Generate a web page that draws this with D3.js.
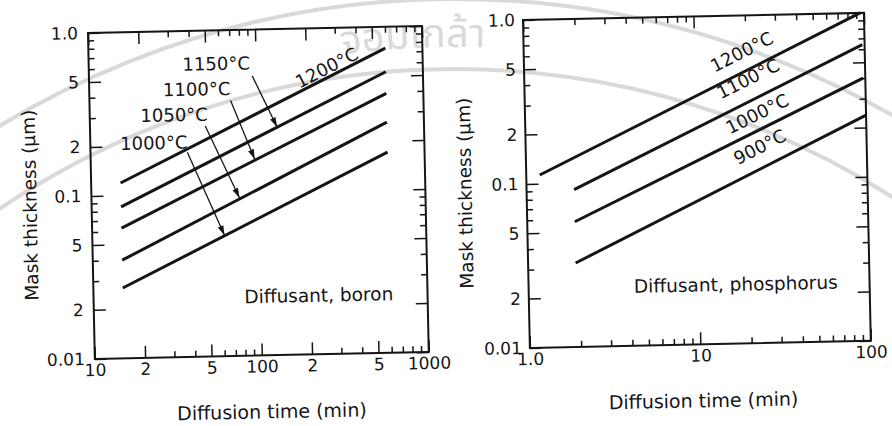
<!DOCTYPE html>
<html>
<head>
<meta charset="utf-8">
<script src="https://cdn.jsdelivr.net/npm/d3@7"></script>
<style>
  body { margin: 0; background: #fff; }
  text { font-family: "DejaVu Sans", sans-serif; fill: #151515; }
  .tick line { stroke: #151515; stroke-width: 1.5; }
  .tick text { font-size: 17px; }
</style>
</head>
<body>
<svg id="chart" width="892" height="426"></svg>
<script>
'use strict';

//#region DATASET
// boron (left panel), straight lines on log-log paper
const boronLabels = ['1200°C', '1150°C', '1100°C', '1050°C', '1000°C'];
const boronTime = [15, 600]; // min
const boronStart = [0.119, 0.085, 0.063, 0.040, 0.027]; // µm at 15 min
const boronEnd = [0.74, 0.53, 0.39, 0.26, 0.17]; // µm at 600 min
const boronLabelAt = [[266, 0.57], [58, 0.57], [44, 0.40], [32, 0.28], [24, 0.19]];
const boronArrowFrom = [null, [95, 0.52], [70, 0.37], [49, 0.26], [38, 0.18]];
const boronArrowTo = [null, [132, 0.25], [96, 0.16], [77, 0.093], [62, 0.055]];
const boronNote = [80, 0.021];

// phosphorus (right panel)
const phosLabels = ['1200°C', '1100°C', '1000°C', '900°C'];
const phosTimeStart = [1.2, 1.9, 1.9, 1.9];
const phosTimeEnd = [95, 97, 97, 100];
const phosStart = [0.113, 0.091, 0.058, 0.0325];
const phosEnd = [1.0, 0.64, 0.40, 0.238];
const phosLabelAt = [[19, 0.60], [20.5, 0.41], [23, 0.25], [23.6, 0.157]];
const phosNote = [4.15, 0.021];

// axes
const thickTicks = [1, 0.5, 0.2, 0.1, 0.05, 0.02, 0.01];
const thickTickLabels = ['1.0', '5', '2', '0.1', '5', '2', '0.01'];
const boronTimeTicks = [10, 20, 50, 100, 200, 500, 1000];
const boronTimeTickLabels = ['10', '2', '5', '100', '2', '5', '1000'];
const phosTimeTicks = [1, 10, 100];
const phosTimeTickLabels = ['1.0', '10', '100'];
//#endregion DATASET

const svg = d3.select('#chart');
const ink = '#151515';
const tilt = -1.2; // the scanned page is slightly rotated

//#region WATERMARK
const wm = svg.append('g').attr('opacity', 0.5);
const wmC = { x: 455, y: 879 };
[810, 880].forEach(r => {
  wm.append('circle')
    .attr('cx', wmC.x).attr('cy', wmC.y).attr('r', r)
    .attr('fill', 'none').attr('stroke', '#b4b4b4').attr('stroke-width', 4);
});
wm.append('path')
  .attr('id', 'wm-path')
  .attr('fill', 'none')
  .attr('d', `M${wmC.x - 832},${wmC.y} A832,832 0 0 1 ${wmC.x + 832},${wmC.y}`);
wm.append('text')
  .style('font-family', '"Noto Sans Thai", "Noto Sans", sans-serif')
  .style('font-size', '40px')
  .style('fill', '#b4b4b4')
  .append('textPath')
  .attr('href', '#wm-path')
  .attr('startOffset', '48.4%')
  .attr('text-anchor', 'middle')
  .text('จอมเกล้า');
//#endregion WATERMARK

//#region MARKERS
svg.append('defs').append('marker')
  .attr('id', 'arrow')
  .attr('viewBox', '0 0 10 10')
  .attr('refX', 10).attr('refY', 5)
  .attr('markerUnits', 'userSpaceOnUse')
  .attr('markerWidth', 10).attr('markerHeight', 10)
  .attr('orient', 'auto')
  .append('path')
  .attr('d', 'M0,2L10,5L0,8Z')
  .attr('fill', ink);
//#endregion MARKERS

function drawPanel (p) {
  const plot = svg.append('g')
    .attr('transform', `translate(${p.left},${p.top}) rotate(${tilt})`);

  const xScale = d3.scaleLog().domain(p.xDomain).range([0, p.width]);
  const yScale = d3.scaleLog().domain([0.01, 1]).range([p.height, 0]);

  // ticks: all point inward, labeled ones longer
  const xMinor = xScale.ticks().filter(v => !p.xTicks.includes(v));
  const yMinor = yScale.ticks().filter(v => !thickTicks.some(t => Math.abs(t - v) < 1e-9));
  const tickAxis = (axis, values, size, labels, pad, shift) => {
    const g = plot.append('g')
      .attr('transform', shift)
      .call(axis.tickValues(values).tickSize(-size).tickSizeOuter(0).tickPadding(pad)
        .tickFormat(labels ? (d, i) => labels[i] : ''));
    g.select('.domain').remove();
    g.attr('font-family', null).attr('font-size', null);
    return g;
  };
  tickAxis(d3.axisBottom(xScale), p.xTicks, 12, p.xLabels, p.xPad, `translate(0,${p.height})`);
  tickAxis(d3.axisBottom(xScale), xMinor, 6, null, 0, `translate(0,${p.height})`);
  tickAxis(d3.axisTop(xScale), p.xTicks, 12, null, 0, null);
  tickAxis(d3.axisTop(xScale), xMinor, 6, null, 0, null);
  tickAxis(d3.axisLeft(yScale), thickTicks, 12, thickTickLabels, p.yPad, null);
  tickAxis(d3.axisLeft(yScale), yMinor, 6, null, 0, null);
  tickAxis(d3.axisRight(yScale), thickTicks, 12, null, 0, `translate(${p.width},0)`);
  tickAxis(d3.axisRight(yScale), yMinor, 6, null, 0, `translate(${p.width},0)`);

  plot.append('rect')
    .attr('width', p.width).attr('height', p.height)
    .attr('fill', 'none').attr('stroke', ink).attr('stroke-width', 2);

  // data lines
  const line = d3.line().x(d => xScale(d[0])).y(d => yScale(d[1]));
  plot.append('g').selectAll('path').data(p.series).enter()
    .append('path')
    .attr('d', line)
    .attr('fill', 'none')
    .attr('stroke', ink)
    .attr('stroke-width', 3);

  // note
  plot.append('text')
    .attr('x', xScale(p.note[0])).attr('y', yScale(p.note[1]))
    .style('font-size', '18.5px')
    .text(p.noteText);

  // axis titles
  plot.append('text')
    .attr('x', p.width / 2 + p.xTitleShift).attr('y', p.height + 63)
    .attr('text-anchor', 'middle')
    .style('font-size', '19px')
    .text('Diffusion time (min)');
  plot.append('text')
    .attr('transform', `translate(-55,${p.height / 2 + 8}) rotate(-90)`)
    .attr('text-anchor', 'middle')
    .style('font-size', '18.5px')
    .text('Mask thickness (μm)');

  return { plot, xScale, yScale };
}

//#region LEFT PANEL
const boronSeries = boronLabels.map((_, i) => [[boronTime[0], boronStart[i]], [boronTime[1], boronEnd[i]]]);
const left = drawPanel({
  left: 88, top: 33, width: 334, height: 326,
  xDomain: [10, 1000], xTicks: boronTimeTicks, xLabels: boronTimeTickLabels,
  xPad: 5, yPad: 10, xTitleShift: 9,
  series: boronSeries, note: boronNote, noteText: 'Diffusant, boron'
});

const slopeAngle = (s, xs, ys) => Math.atan2(ys(s[1][1]) - ys(s[0][1]), xs(s[1][0]) - xs(s[0][0])) * 180 / Math.PI;

boronLabels.forEach((label, i) => {
  const x = left.xScale(boronLabelAt[i][0]);
  const y = left.yScale(boronLabelAt[i][1]);
  const t = left.plot.append('text')
    .attr('text-anchor', 'middle')
    .style('font-size', '18px')
    .text(label);
  if (i === 0) {
    t.attr('transform', `translate(${x},${y}) rotate(${slopeAngle(boronSeries[0], left.xScale, left.yScale)})`)
      .attr('dy', '0.35em');
  } else {
    t.attr('x', x).attr('y', y);
    left.plot.append('line')
      .attr('x1', left.xScale(boronArrowFrom[i][0])).attr('y1', left.yScale(boronArrowFrom[i][1]))
      .attr('x2', left.xScale(boronArrowTo[i][0])).attr('y2', left.yScale(boronArrowTo[i][1]))
      .attr('stroke', ink).attr('stroke-width', 1.3)
      .attr('marker-end', 'url(#arrow)');
  }
});
//#endregion LEFT PANEL

//#region RIGHT PANEL
const phosSeries = phosLabels.map((_, i) => [[phosTimeStart[i], phosStart[i]], [phosTimeEnd[i], phosEnd[i]]]);
const right = drawPanel({
  left: 523, top: 20, width: 341, height: 328,
  xDomain: [1, 100], xTicks: phosTimeTicks, xLabels: phosTimeTickLabels,
  xPad: 5, yPad: 8, xTitleShift: 2,
  series: phosSeries, note: phosNote, noteText: 'Diffusant, phosphorus'
});

phosLabels.forEach((label, i) => {
  const x = right.xScale(phosLabelAt[i][0]);
  const y = right.yScale(phosLabelAt[i][1]);
  right.plot.append('text')
    .attr('transform', `translate(${x},${y}) rotate(${slopeAngle(phosSeries[i], right.xScale, right.yScale)})`)
    .attr('text-anchor', 'middle')
    .attr('dy', '0.35em')
    .style('font-size', '18px')
    .text(label);
});
//#endregion RIGHT PANEL
</script>
</body>
</html>
